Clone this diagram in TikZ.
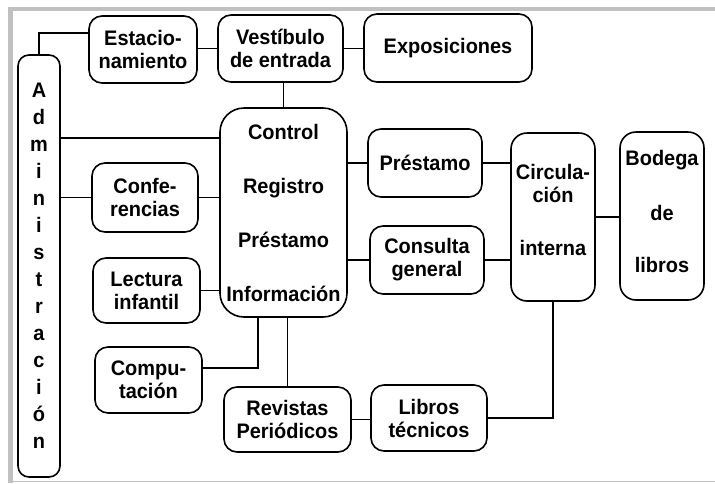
\documentclass[tikz,border=0pt]{standalone}
\usepackage{fontspec}
\setmainfont{Liberation Sans}[FakeStretch=0.95]
\definecolor{framegray}{RGB}{192,192,192}
\begin{document}
\begin{tikzpicture}[x=1pt,y=-1pt,
  box/.style={draw, line width=1.6pt, rounded corners=13pt, align=center, inner sep=0pt,
    font=\fontsize{21}{23}\selectfont\bfseries},
  txt/.style={align=center, inner sep=0pt, font=\fontsize{21}{23}\selectfont\bfseries},
  conn/.style={line width=1.6pt}]
\useasboundingbox (0,0) rectangle (715,483);
% frame
\fill[framegray] (8,7) rectangle (715,11);
\fill[framegray] (8,7) rectangle (13,483);
\fill[framegray] (8,481) rectangle (715,482);
% nodes
\node[box, minimum width=108pt, minimum height=67pt] (est) at (143,49.5) {Estacio-\\namiento};
\node[box, minimum width=125pt, minimum height=67pt] (vest) at (280.5,48.5) {Vestíbulo\\de entrada};
\node[box, minimum width=168pt, minimum height=68pt] (expo) at (448,48) {Exposiciones};
\node[box, rounded corners=11pt, minimum width=42pt, minimum height=422pt,
  font=\fontsize{21}{27}\selectfont\bfseries] (admin) at (39,266)
  {A\\d\\m\\i\\n\\i\\s\\t\\r\\a\\c\\i\\ó\\n};
\node[box, rounded corners=24pt, minimum width=127pt, minimum height=209pt] (ctrl) at (283.5,212.5)
  {Control\\[31pt]Registro\\[31pt]Préstamo\\[31pt]Información};
\node[box, minimum width=106pt, minimum height=69pt] (conf) at (145,197.5) {Confe-\\rencias};
\node[box, minimum width=107pt, minimum height=65pt] (lect) at (146.5,290.5) {Lectura\\infantil};
\node[box, minimum width=107pt, minimum height=66pt] (comp) at (148.5,380) {Compu-\\tación};
\node[box, minimum width=127pt, minimum height=65pt] (rev) at (287.5,419.5) {Revistas\\Periódicos};
\node[box, minimum width=116pt, minimum height=66pt] (lib) at (429,418) {Libros\\técnicos};
\node[box, minimum width=114pt, minimum height=68pt] (pres) at (425,163) {Préstamo};
\node[box, minimum width=114pt, minimum height=68pt] (cons) at (427,260) {Consulta\\general};
\node[box, rounded corners=16pt, minimum width=84pt, minimum height=168pt] (circ) at (553,217) {};
\node[txt] (circT) at (553,210) {Circula-\\ción\\[30pt]interna};
\node[box, rounded corners=16pt, minimum width=84pt, minimum height=168pt] (bod) at (662,216) {};
\node[txt] (bodT) at (662,211) {Bodega\\[32pt]de\\[29pt]libros};
% connectors
\draw[conn] (admin.north) |- ([yshift=16.5pt]est.west);
\draw[conn] (vest.west) -- (vest.west -| est.east);
\draw[conn] (vest.east) -- (vest.east -| expo.west);
\draw[conn] (ctrl.north) -- (ctrl.north |- vest.south);
\draw[conn] ([yshift=74.5pt]ctrl.west) -- ([yshift=74.5pt]ctrl.west -| admin.east);
\draw[conn] (conf.west) -- (conf.west -| admin.east);
\draw[conn] (conf.east) -- (conf.east -| ctrl.west);
\draw[conn] (lect.east) -- (lect.east -| ctrl.west);
\draw[conn] ([yshift=12pt]comp.east) -| ([xshift=-25.5pt]ctrl.south);
\draw[conn] (rev.north) -- (rev.north |- ctrl.south);
\draw[conn] (rev.east) -- (rev.east -| lib.west);
\draw[conn] (lib.east) -| (circ.south);
\draw[conn] (pres.west) -- (pres.west -| ctrl.east);
\draw[conn] (pres.east) -- (pres.east -| circ.west);
\draw[conn] (cons.west) -- (cons.west -| ctrl.east);
\draw[conn] (cons.east) -- (cons.east -| circ.west);
\draw[conn] (circ.east) -- (circ.east -| bod.west);
\end{tikzpicture}
\end{document}
